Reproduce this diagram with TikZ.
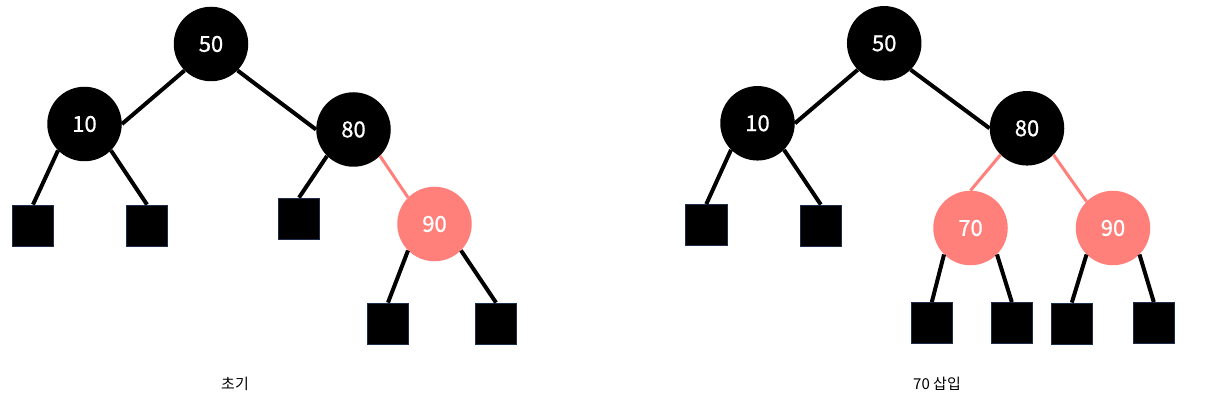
\documentclass[tikz,border=0pt]{standalone}
\usepackage{fontspec}
\setmainfont{Noto Sans CJK KR}
\newfontfamily\krfont{Noto Sans CJK KR}
\newfontfamily\keyfont[FakeBold=0.9]{Noto Sans CJK KR}
\definecolor{redlink}{RGB}{255,128,122}
\definecolor{leafedge}{RGB}{30,45,75}
\begin{document}
\begin{tikzpicture}[x=1pt,y=-1pt,
  blacknode/.style={circle,fill=black,text=white,minimum size=74.5pt,inner sep=0pt,
    font=\keyfont\fontsize{22}{26}\selectfont},
  rednode/.style={blacknode,fill=redlink},
  leaf/.style={rectangle,fill=black,draw=leafedge,line width=0.8pt,
    minimum width=41.5pt,minimum height=41pt,inner sep=0pt},
  blackedge/.style={line width=4pt,black},
  rededge/.style={line width=3pt,redlink},
  caption/.style={font=\krfont\fontsize{15}{18}\selectfont}]
\useasboundingbox (0,0) rectangle (1230,411);

% initial tree
\node[blacknode] (a50) at (211,44) {50};
\node[blacknode] (a10) at (84.5,124) {10};
\node[blacknode] (a80) at (353.5,129.5) {80};
\node[rednode]   (a90) at (434.5,224) {90};
\node[leaf] (al1) at (33,225.5) {};
\node[leaf] (al2) at (147,225.5) {};
\node[leaf] (al3) at (299,218.5) {};
\node[leaf] (al4) at (388,323.5) {};
\node[leaf] (al5) at (496,323.5) {};

\draw[blackedge] (a50.225) -- (a10.east);
\draw[blackedge] (a50.315) -- (a80.west);
\draw[blackedge] (a10.225) -- (al1.north);
\draw[blackedge] (a10.315) -- (al2.north);
\draw[blackedge] (a80.225) -- (al3.north);
\draw[rededge]   (a80.315) -- (a90.135);
\draw[blackedge] (a90.225) -- (al4.north);
\draw[blackedge] (a90.315) -- (al5.north);

\node[caption] (cap1) at (235,384) {초기};

% tree after inserting 70
\node[blacknode] (b50) at (884.2,43.3) {50};
\node[blacknode] (b10) at (757.5,123.3) {10};
\node[blacknode] (b80) at (1027,128.3) {80};
\node[rednode]   (b70) at (970.5,228) {70};
\node[rednode]   (b90) at (1113,228) {90};
\node[leaf] (bl1) at (706.3,225) {};
\node[leaf] (bl2) at (820.8,225.5) {};
\node[leaf] (bl3) at (931.8,323) {};
\node[leaf] (bl4) at (1011.8,323) {};
\node[leaf] (bl5) at (1071.8,323.5) {};
\node[leaf] (bl6) at (1153.8,323) {};

\draw[blackedge] (b50.225) -- (b10.east);
\draw[blackedge] (b50.315) -- (b80.west);
\draw[blackedge] (b10.225) -- (bl1.north);
\draw[blackedge] (b10.315) -- (bl2.north);
\draw[rededge]   (b80.225) -- (b70.north);
\draw[rededge]   (b80.315) -- (b90.135);
\draw[blackedge] (b70.225) -- (bl3.north);
\draw[blackedge] (b70.315) -- (bl4.north);
\draw[blackedge] (b90.225) -- (bl5.north);
\draw[blackedge] (b90.315) -- (bl6.north);

\node[caption] (cap2) at (937,384) {70 삽입};
\end{tikzpicture}
\end{document}
